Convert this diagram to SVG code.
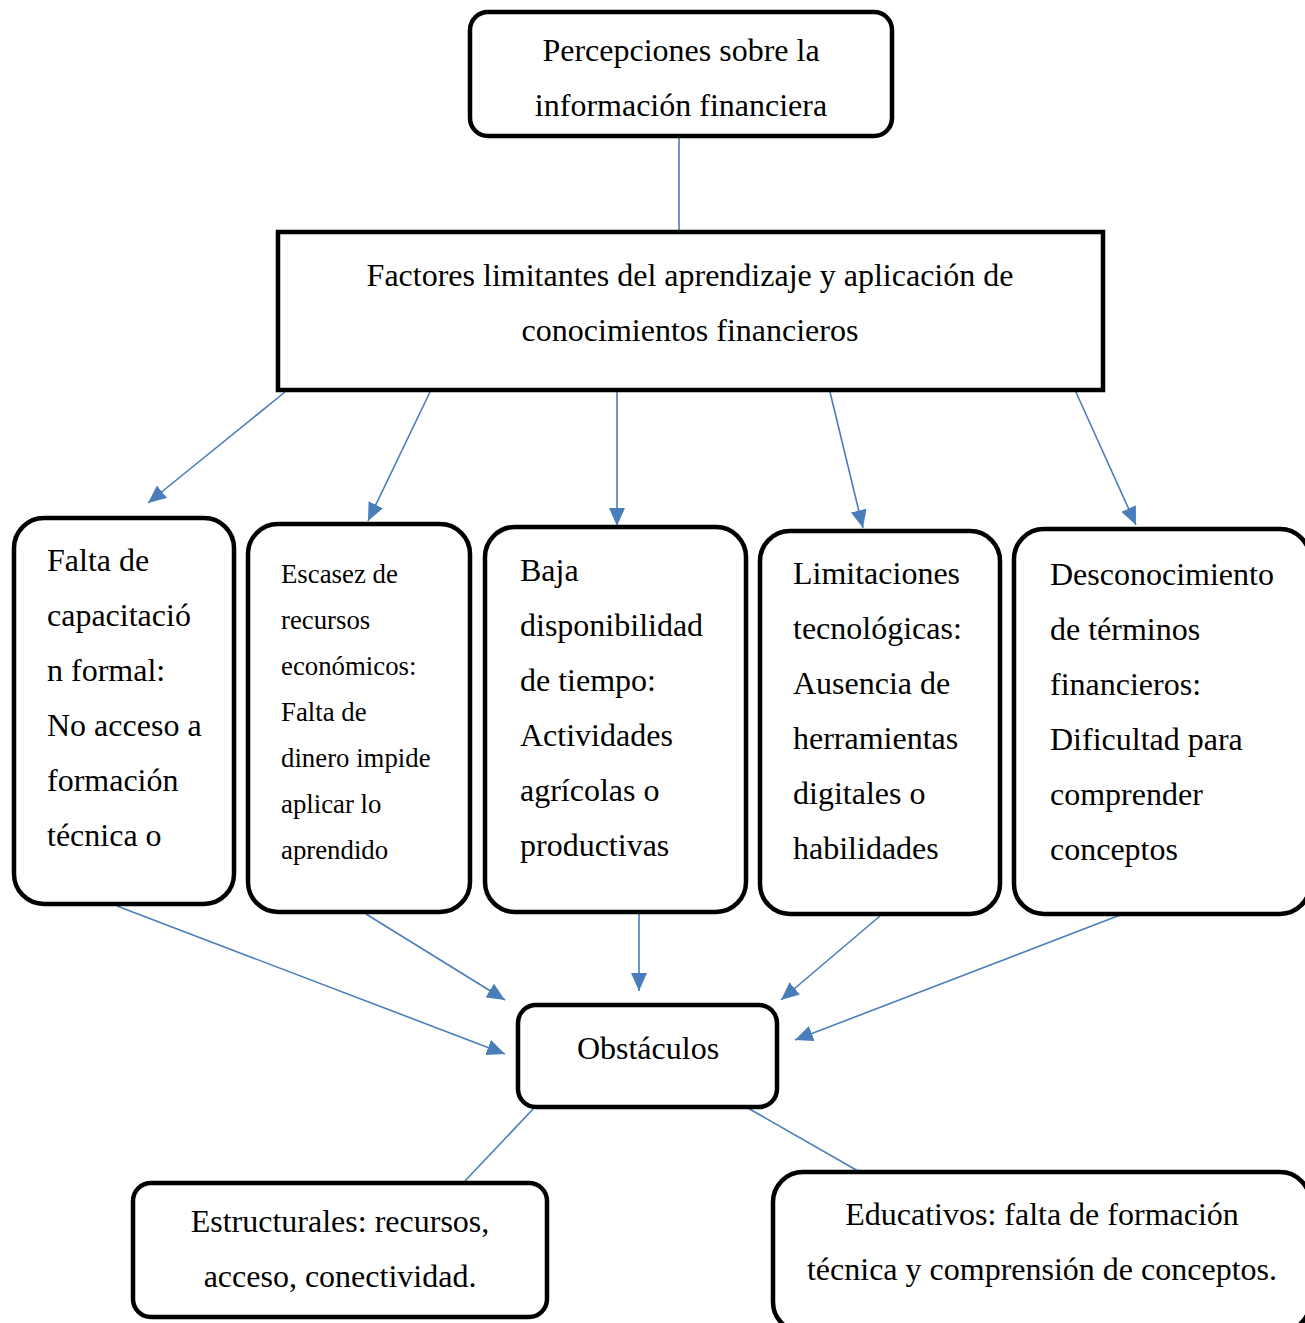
<svg xmlns="http://www.w3.org/2000/svg" width="1305" height="1323" viewBox="0 0 1305 1323">
<style>
.box{fill:#fff;stroke:#000;stroke-width:4.5}
.t{font-family:"Liberation Serif","Times New Roman",serif;font-size:32px;fill:#000}
.s{font-family:"Liberation Serif","Times New Roman",serif;font-size:26.8px;fill:#000}
.c{text-anchor:middle}
.ln{stroke:#4a7ebb;stroke-width:1.6;fill:none}
</style>
<defs>
<marker id="ah" markerUnits="userSpaceOnUse" markerWidth="20" markerHeight="16" refX="18" refY="8" orient="auto">
<path d="M0,0 L18,8 L0,16 Z" fill="#4a7ebb"/>
</marker>
</defs>
<rect width="1305" height="1323" fill="#fff"/>
<g id="connectors">
<line class="ln" x1="679" y1="136" x2="679" y2="232"/>
<line class="ln" x1="285" y1="392" x2="148" y2="503" marker-end="url(#ah)"/>
<line class="ln" x1="430" y1="392" x2="368" y2="521" marker-end="url(#ah)"/>
<line class="ln" x1="617" y1="392" x2="617" y2="526" marker-end="url(#ah)"/>
<line class="ln" x1="830" y1="392" x2="863" y2="528" marker-end="url(#ah)"/>
<line class="ln" x1="1075" y1="390" x2="1136" y2="525" marker-end="url(#ah)"/>
<line class="ln" x1="117" y1="906" x2="505" y2="1054" marker-end="url(#ah)"/>
<line class="ln" x1="366" y1="914" x2="505" y2="1000" marker-end="url(#ah)"/>
<line class="ln" x1="639" y1="914" x2="639" y2="991" marker-end="url(#ah)"/>
<line class="ln" x1="880" y1="916" x2="781" y2="1000" marker-end="url(#ah)"/>
<line class="ln" x1="1128" y1="912" x2="795" y2="1040" marker-end="url(#ah)"/>
<line class="ln" x1="535" y1="1107" x2="464" y2="1182"/>
<line class="ln" x1="746" y1="1107" x2="858" y2="1171"/>
</g>
<g id="percepciones">
<rect class="box" x="470" y="12" width="422" height="124" rx="18"/>
<text class="t c" x="681" y="61">Percepciones sobre la</text>
<text class="t c" x="681" y="116">información financiera</text>
</g>
<g id="factores">
<rect class="box" x="278" y="232" width="825" height="158"/>
<text class="t c" x="690" y="286">Factores limitantes del aprendizaje y aplicación de</text>
<text class="t c" x="690" y="341">conocimientos financieros</text>
</g>
<g id="capacitacion">
<rect class="box" x="14" y="518" width="220" height="386" rx="30"/>
<text class="t" x="47" y="571">Falta de</text>
<text class="t" x="47" y="626">capacitació</text>
<text class="t" x="47" y="681">n formal:</text>
<text class="t" x="47" y="736">No acceso a</text>
<text class="t" x="47" y="791">formación</text>
<text class="t" x="47" y="846">técnica o</text>
</g>
<g id="escasez">
<rect class="box" x="248" y="524" width="222" height="388" rx="30"/>
<text class="s" x="281" y="583">Escasez de</text>
<text class="s" x="281" y="629">recursos</text>
<text class="s" x="281" y="675">económicos:</text>
<text class="s" x="281" y="721">Falta de</text>
<text class="s" x="281" y="767">dinero impide</text>
<text class="s" x="281" y="813">aplicar lo</text>
<text class="s" x="281" y="859">aprendido</text>
</g>
<g id="tiempo">
<rect class="box" x="485" y="527" width="261" height="385" rx="30"/>
<text class="t" x="520" y="581">Baja</text>
<text class="t" x="520" y="636">disponibilidad</text>
<text class="t" x="520" y="691">de tiempo:</text>
<text class="t" x="520" y="746">Actividades</text>
<text class="t" x="520" y="801">agrícolas o</text>
<text class="t" x="520" y="856">productivas</text>
</g>
<g id="tecnologicas">
<rect class="box" x="760" y="531" width="240" height="383" rx="30"/>
<text class="t" x="793" y="584">Limitaciones</text>
<text class="t" x="793" y="639">tecnológicas:</text>
<text class="t" x="793" y="694">Ausencia de</text>
<text class="t" x="793" y="749">herramientas</text>
<text class="t" x="793" y="804">digitales o</text>
<text class="t" x="793" y="859">habilidades</text>
</g>
<g id="desconocimiento">
<rect class="box" x="1014" y="529" width="296" height="385" rx="30"/>
<text class="t" x="1050" y="585">Desconocimiento</text>
<text class="t" x="1050" y="640">de términos</text>
<text class="t" x="1050" y="695">financieros:</text>
<text class="t" x="1050" y="750">Dificultad para</text>
<text class="t" x="1050" y="805">comprender</text>
<text class="t" x="1050" y="860">conceptos</text>
</g>
<g id="obstaculos">
<rect class="box" x="518" y="1005" width="259" height="102" rx="18"/>
<text class="t c" x="648" y="1059">Obstáculos</text>
</g>
<g id="estructurales">
<rect class="box" x="133" y="1183" width="414" height="134" rx="18"/>
<text class="t c" x="340" y="1232">Estructurales: recursos,</text>
<text class="t c" x="340" y="1287">acceso, conectividad.</text>
</g>
<g id="educativos">
<rect class="box" x="773" y="1172" width="537" height="160" rx="30"/>
<text class="t c" x="1042" y="1225">Educativos: falta de formación</text>
<text class="t c" x="1042" y="1280">técnica y comprensión de conceptos.</text>
</g>
</svg>
